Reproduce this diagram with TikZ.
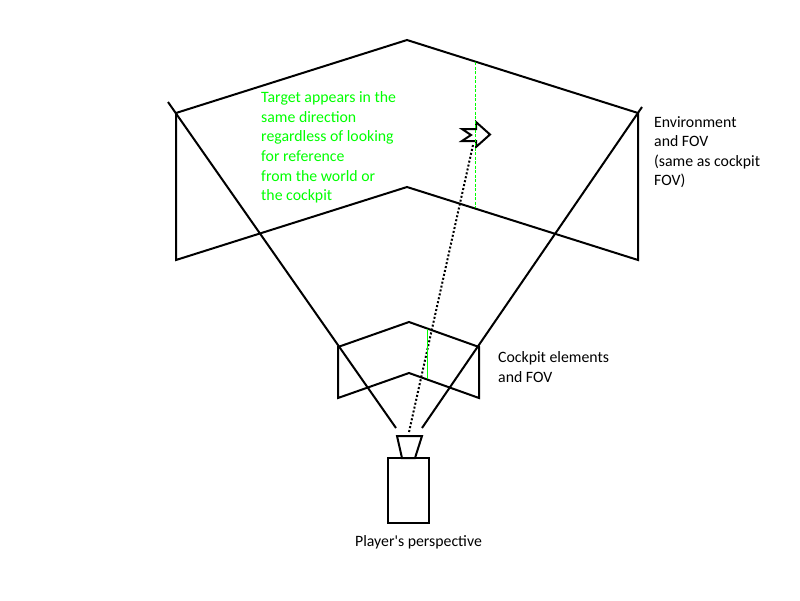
\documentclass[tikz,border=0pt]{standalone}
\usepackage{fontspec}
\setmainfont{Carlito}[Ligatures=TeXOff]
\begin{document}
\begin{tikzpicture}[x=1pt,y=-1pt,
  edge/.style={line width=2pt,line join=miter},
  ray/.style={line width=2pt},
  sightline/.style={line width=2pt,dash pattern=on 2pt off 2pt},
  guide/.style={draw=green,line width=1pt,dash pattern=on 3pt off 1.5pt},
  guidesolid/.style={draw=green,line width=1.3pt},
  lbl/.style={inner sep=0pt,align=left,font=\fontsize{15.8}{19.6}\selectfont},
  greenlbl/.style={lbl,text=green}]
\useasboundingbox[fill=white] (0,0) rectangle (800,600);
% big environment screen
\coordinate (etl) at (176,113);
\coordinate (etp) at (407,40);
\coordinate (etr) at (638,113);
\coordinate (ebl) at (176,260);
\coordinate (ebp) at (407,187);
\coordinate (ebr) at (638,260);
\draw[edge] (ebl) -- (etl) -- (etp) -- (etr) -- (ebr) -- (ebp) -- cycle;
% cockpit screen
\coordinate (ctl) at (338,347);
\coordinate (ctp) at (409,322);
\coordinate (ctr) at (479,347);
\coordinate (cbl) at (338,398);
\coordinate (cbp) at (409,373);
\coordinate (cbr) at (479,398);
\draw[edge] (cbl) -- (ctl) -- (ctp) -- (ctr) -- (cbr) -- (cbp) -- cycle;
% viewer
\coordinate (ltl) at (397,436);
\coordinate (ltr) at (422,436);
\coordinate (lbl) at (402,458);
\coordinate (lbr) at (415,458);
\draw[edge] (ltl) -- (ltr) -- (lbr) -- (lbl) -- cycle;
\node[draw,line width=2pt,minimum width=41pt,minimum height=65pt,inner sep=0pt] (body) at (408.5,490.5) {};
% FOV rays
\coordinate (rl0) at (168,102);
\coordinate (rl1) at (396,428);
\coordinate (rr0) at (642,107);
\coordinate (rr1) at (422,428);
\draw[ray] (rl0) -- (rl1);
\draw[ray] (rr0) -- (rr1);
% sight line
\coordinate (s0) at (409,432);
\coordinate (s1) at (473,145);
\draw[sightline] (s0) -- (s1);
% target
\draw[edge,fill=white] (462,129) -- (476,129) -- (476,122) -- (490,134.5) -- (476,147) -- (476,141) -- (462,141) -- (471,135) -- cycle;
% green guides
\coordinate (g0) at (475.5,62);
\coordinate (g1) at (475.5,208);
\draw[guide] (g0) -- (g1);
\coordinate (h0) at (427.5,329);
\coordinate (h1) at (427.5,379);
\draw[guidesolid] (h0) -- (h1);
% labels
\node[greenlbl,anchor=north west] (tlabel) at (261,91.5) {Target appears in the\\same direction\\regardless of looking\\for reference\\from the world or\\the cockpit};
\node[lbl,anchor=north west] (elabel) at (654,116) {Environment\\and FOV\\(same as cockpit\\FOV)};
\node[lbl,anchor=north west] (clabel) at (498,351.5) {Cockpit elements\\and FOV};
\node[lbl,anchor=north] (plabel) at (418.5,535.5) {Player's perspective};
\end{tikzpicture}
\end{document}
